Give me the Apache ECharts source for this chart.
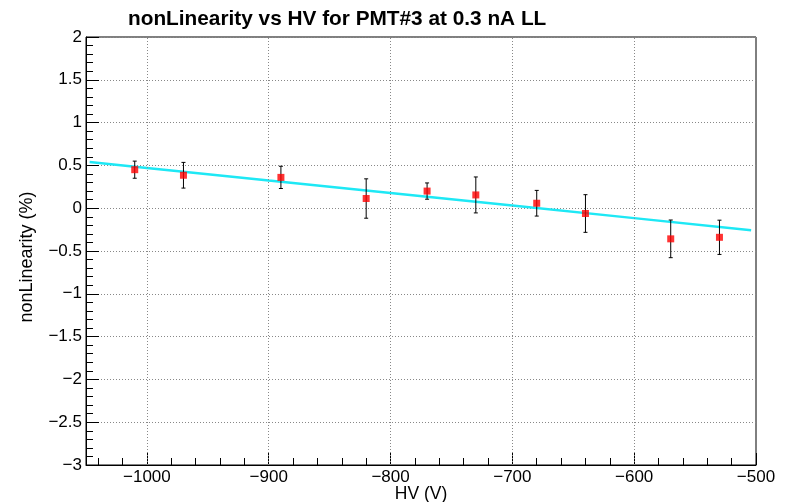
<!DOCTYPE html>
<html>
<head>
<meta charset="utf-8">
<script src="https://cdn.jsdelivr.net/npm/echarts@6/dist/echarts.min.js"></script>
<style>html,body{margin:0;padding:0;background:#fff;}#c{width:786px;height:502px;}</style>
</head>
<body>
<div id="c"></div>
<script>
// ---- data ----
const hv       = [-1010, -970, -890, -820, -770, -730, -680, -640, -570, -530];
const nonLin   = [0.45, 0.385, 0.36, 0.113, 0.20, 0.155, 0.058, -0.062, -0.358, -0.34];
const nonLinErr= [0.10, 0.15, 0.13, 0.23, 0.095, 0.21, 0.15, 0.22, 0.22, 0.20];
const fitHV    = [-1047, -1000, -900, -800, -700, -600, -504];
const fitVal   = [0.54, 0.471, 0.324, 0.178, 0.031, -0.116, -0.257];
const xMajorTicks = [-1000, -900, -800, -700, -600, -500];
const xMinorTicks = [-1040,-1020,-980,-960,-940,-920,-880,-860,-840,-820,-780,-760,-740,-720,-680,-660,-640,-620,-580,-560,-540,-520];
const xGridLines  = [-1000, -900, -800, -700, -600];

const FONT = 'Liberation Sans';
const minus = v => String(v).replace('-', '\u2212');

const chart = echarts.init(document.getElementById('c'), null, {renderer: 'canvas'});
const points = hv.map((x, i) => [x, nonLin[i], nonLinErr[i]]);

chart.setOption({
  animation: false,
  backgroundColor: '#fff',
  title: {
    text: 'nonLinearity vs HV for PMT#3 at 0.3 nA LL',
    left: 123, top: 4,
    textStyle: {fontFamily: FONT, fontSize: 20.8, fontWeight: 'bold', color: '#000'}
  },
  grid: {left: 86, right: 30, top: 37, bottom: 37, containLabel: false, outerBoundsMode: 'none',
         show: true, borderColor: '#000', borderWidth: 1, backgroundColor: 'transparent'},
  xAxis: [{
    type: 'value', min: -1050, max: -500,
    name: 'HV (V)', nameLocation: 'middle', nameGap: 20, nameMoveOverlap: false,
    nameTextStyle: {fontFamily: FONT, fontSize: 17.5, color: '#000', lineHeight: 18},
    axisLine: {show: true, onZero: false, lineStyle: {color: '#000', width: 1}},
    axisTick: {show: true, inside: true, length: 12, customValues: xMajorTicks, lineStyle: {color: '#000'}},
    axisLabel: {customValues: xMajorTicks, fontFamily: FONT, fontSize: 17, color: '#000', margin: 4, formatter: minus},
    splitLine: {show: false}
  }, {
    type: 'value', min: -1050, max: -500, position: 'bottom',
    axisLine: {show: false, onZero: false},
    axisTick: {show: true, inside: true, length: 7, customValues: xMinorTicks, lineStyle: {color: '#000'}},
    axisLabel: {show: false, customValues: xMinorTicks},
    splitLine: {show: false}
  }],
  yAxis: {
    type: 'value', min: -3, max: 2, interval: 0.5,
    name: 'nonLinearity (%)', nameLocation: 'middle', nameGap: 50, nameMoveOverlap: false,
    nameTextStyle: {fontFamily: FONT, fontSize: 18, color: '#000', padding: [0, 12, 0, 0]},
    axisLine: {show: true, onZero: false, lineStyle: {color: '#000', width: 1}},
    axisTick: {show: true, inside: true, length: 13, lineStyle: {color: '#000'}},
    minorTick: {show: true, splitNumber: 5, length: 7, lineStyle: {color: '#000'}},
    axisLabel: {fontFamily: FONT, fontSize: 17, color: '#000', margin: 4, formatter: minus},
    splitLine: {show: true, lineStyle: {color: '#888', type: [1, 2], width: 1}}
  },
  series: [{
    type: 'line', xAxisIndex: 0,
    data: fitHV.map((x, i) => [x, fitVal[i]]),
    symbol: 'none', lineStyle: {color: '#1ee8f5', width: 2.5}, z: 3,
    markLine: {
      silent: true, symbol: 'none', label: {show: false},
      lineStyle: {color: '#888', type: [1, 2], width: 1},
      data: xGridLines.map(v => ({xAxis: v}))
    }
  }, {
    type: 'custom', xAxisIndex: 0, z: 4,
    data: points,
    renderItem: function (params, api) {
      const x = api.value(0), y = api.value(1), e = api.value(2);
      const top = api.coord([x, y + e]);
      const bot = api.coord([x, y - e]);
      const cap = 2;
      const st = {stroke: '#000', lineWidth: 1};
      return {type: 'group', children: [
        {type: 'line', shape: {x1: top[0], y1: top[1], x2: bot[0], y2: bot[1]}, style: st},
        {type: 'line', shape: {x1: top[0] - cap, y1: top[1], x2: top[0] + cap, y2: top[1]}, style: st},
        {type: 'line', shape: {x1: bot[0] - cap, y1: bot[1], x2: bot[0] + cap, y2: bot[1]}, style: st}
      ]};
    }
  }, {
    type: 'scatter', xAxisIndex: 0, z: 5,
    data: points.map(p => [p[0], p[1]]),
    symbol: 'rect', symbolSize: 7, itemStyle: {color: '#ff0000'}
  }]
});
</script>
</body>
</html>
